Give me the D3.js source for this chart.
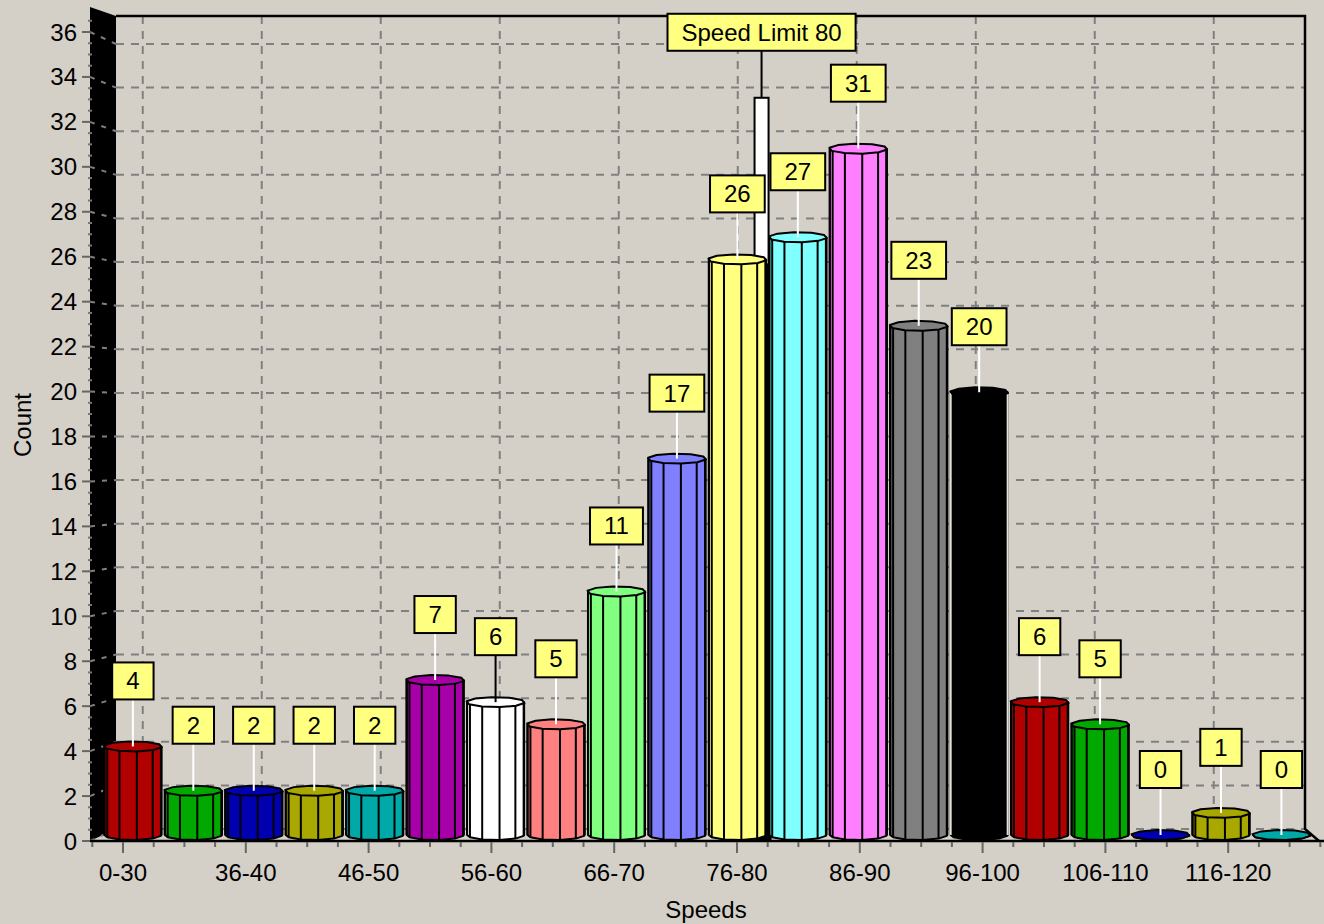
<!DOCTYPE html>
<html>
<head>
<meta charset="utf-8">
<script src="https://cdn.jsdelivr.net/npm/d3@7"></script>
<style>
  html, body { margin: 0; padding: 0; background: #d4d0c8; }
  text { font-family: "Liberation Sans", Arial, sans-serif; }
</style>
</head>
<body>
<script>
// speed bins (label, low, high) and counts
var binLabels = ["0-30", "31-35", "36-40", "41-45", "46-50", "51-55", "56-60", "61-65", "66-70", "71-75",
                 "76-80", "81-85", "86-90", "91-95", "96-100", "101-105", "106-110", "111-115", "116-120", "121-125"];
var binLow  = [0, 31, 36, 41, 46, 51, 56, 61, 66, 71, 76, 81, 86, 91, 96, 101, 106, 111, 116, 121];
var binHigh = [30, 35, 40, 45, 50, 55, 60, 65, 70, 75, 80, 85, 90, 95, 100, 105, 110, 115, 120, 125];
var counts  = [4, 2, 2, 2, 2, 7, 6, 5, 11, 17, 26, 27, 31, 23, 20, 6, 5, 0, 1, 0];
var barColors = ["#b00000", "#00a800", "#0000b0", "#a8a800", "#00a8a8", "#a800a8", "#ffffff", "#ff8080",
                 "#80ff80", "#8080ff", "#ffff80", "#80ffff", "#ff80ff", "#808080", "#000000",
                 "#b00000", "#00a800", "#0000b0", "#a8a800", "#00a8a8"];
var yTicks = d3.range(0, 37, 2);
var speedLimit = 80;
var speedLimitHeight = 33.3;
var speedLimitText = "Speed Limit 80";

var W = 1324, H = 924;
var bg = "#d4d0c8";
var gridColor = "#808080";

// front plane (floor edge) and back wall scales, bars stand half way
var xF = d3.scaleLinear().domain([-0.5, 19.5]).range([92.3, 1320.3]);
var xB = d3.scaleLinear().domain([-0.5, 19.5]).range([113, 1303]);
var yF = d3.scaleLinear().domain([0, 36]).range([841, 32]);
var yB = d3.scaleLinear().domain([0, 36]).range([829, 44]);
function xM(i) { return (xF(i) + xB(i)) / 2; }
function yM(v) { return (yF(v) + yB(v)) / 2; }

var wall = { left: 116, right: 1305, top: 16, bottom: 829, frontLeft: 90, frontTop: 7 };

var svg = d3.select("body").append("svg")
    .attr("width", W)
    .attr("height", H);

svg.append("rect").attr("width", W).attr("height", H).attr("fill", bg);

// back wall grid
svg.append("g").selectAll("line")
    .data(yTicks)
    .join("line")
    .attr("x1", wall.left).attr("x2", wall.right)
    .attr("y1", function(d) { return yB(d); }).attr("y2", function(d) { return yB(d); })
    .attr("stroke", gridColor).attr("stroke-width", 2).attr("stroke-dasharray", "8,7");

svg.append("g").selectAll("line")
    .data(d3.range(0, binLabels.length, 2))
    .join("line")
    .attr("x1", function(d) { return xB(d); }).attr("x2", function(d) { return xB(d); })
    .attr("y1", wall.top).attr("y2", wall.bottom)
    .attr("stroke", gridColor).attr("stroke-width", 2).attr("stroke-dasharray", "8,7");

// wall border
svg.append("path")
    .attr("d", "M" + wall.left + "," + wall.top + "H" + wall.right + "V" + wall.bottom + "L" + (wall.right + 14) + ",841")
    .attr("fill", "none").attr("stroke", "#000").attr("stroke-width", 2.5);

// left wall (black)
svg.append("path")
    .attr("d", "M" + wall.frontLeft + ",841V" + wall.frontTop + "L" + wall.left + "," + wall.top + "V" + wall.bottom + "Z")
    .attr("fill", "#000");

svg.append("g").selectAll("line")
    .data(yTicks)
    .join("line")
    .attr("x1", wall.frontLeft).attr("x2", wall.left)
    .attr("y1", function(d) { return yF(d); }).attr("y2", function(d) { return yB(d); })
    .attr("stroke", gridColor).attr("stroke-width", 2).attr("stroke-dasharray", "5,7");

// y axis ticks + labels
svg.append("g").selectAll("line")
    .data(d3.range(0, 36.6, 0.5).filter(function(d) { return d % 2 != 0; }))
    .join("line")
    .attr("x1", 88).attr("x2", 92)
    .attr("y1", function(d) { return yF(d); }).attr("y2", function(d) { return yF(d); })
    .attr("stroke", "#777").attr("stroke-width", 2);

svg.append("g").selectAll("line")
    .data(yTicks)
    .join("line")
    .attr("x1", 82).attr("x2", 91)
    .attr("y1", function(d) { return yF(d); }).attr("y2", function(d) { return yF(d); })
    .attr("stroke", "#666").attr("stroke-width", 2);

svg.append("g").selectAll("text")
    .data(yTicks)
    .join("text")
    .attr("x", 77)
    .attr("y", function(d) { return yF(d) + 8.5; })
    .attr("text-anchor", "end")
    .attr("font-size", 24)
    .attr("fill", "#000")
    .text(function(d) { return d; });

// speed limit marker, placed inside its bin
var limBin = binLow.findIndex(function(lo, i) { return speedLimit >= lo && speedLimit <= binHigh[i]; });
var limPos = limBin - 0.5 + (speedLimit - (binLow[limBin] - 0.5)) / (binHigh[limBin] - binLow[limBin] + 1);
var limX = xM(limPos);
var limTop = yM(speedLimitHeight);

svg.append("rect")
    .attr("x", limX - 7).attr("y", limTop)
    .attr("width", 14).attr("height", 841 - limTop)
    .attr("fill", "#fff").attr("stroke", "#000").attr("stroke-width", 2);
// part of the marker that sits in the bar's shade
svg.append("rect")
    .attr("x", limX - 7).attr("y", yM(counts[limBin]) + 4)
    .attr("width", 17).attr("height", 841 - yM(counts[limBin]) - 4)
    .attr("fill", "#000");

// cylinder bars
var r = 28.5, ry = 5, nFacets = 10, phase = 10 * Math.PI / 180;
var angles = d3.range(nFacets).map(function(k) { return phase + k * 2 * Math.PI / nFacets; });
var frontAngles = angles.filter(function(a) { return Math.sin(a) > 0; });
var baseY = yM(0);

var bars = svg.append("g").selectAll("g")
    .data(counts)
    .join("g");

bars.each(function(v, i) {
    var g = d3.select(this);
    var cx = xM(i), cy = yM(v);
    var fill = barColors[i];
    var edge = fill == "#000000" ? "#e6e2da" : "#000";

    var bottom = frontAngles.slice().reverse().map(function(a) {
        return [cx + r * Math.cos(a), baseY + ry * Math.sin(a)];
    });
    var body = [[cx - r, cy], [cx - r, baseY]].concat(bottom).concat([[cx + r, baseY], [cx + r, cy]]);
    g.append("path")
        .attr("d", "M" + body.join("L") + "Z")
        .attr("fill", fill).attr("stroke", "#000").attr("stroke-width", 2).attr("stroke-linejoin", "round");

    g.selectAll("line.facet")
        .data(frontAngles)
        .join("line")
        .attr("class", "facet")
        .attr("x1", function(a) { return cx + r * Math.cos(a); })
        .attr("x2", function(a) { return cx + r * Math.cos(a); })
        .attr("y1", function(a) { return cy + ry * Math.sin(a); })
        .attr("y2", function(a) { return baseY + ry * Math.sin(a); })
        .attr("stroke", "#000").attr("stroke-width", 2);

    g.selectAll("line.edge")
        .data([cx - r, cx + r])
        .join("line")
        .attr("class", "edge")
        .attr("x1", function(d) { return d; }).attr("x2", function(d) { return d; })
        .attr("y1", cy).attr("y2", baseY)
        .attr("stroke", edge).attr("stroke-width", 2);

    var cap = angles.map(function(a) {
        return [cx + r * 1.03 * Math.cos(a), cy + ry * Math.sin(a)];
    });
    g.append("path")
        .attr("d", "M" + cap.join("L") + "Z")
        .attr("fill", fill).attr("stroke", "#000").attr("stroke-width", 2).attr("stroke-linejoin", "round");
});

// value callouts
var boxGap = 47, boxH = 37, pad = 14, fontSize = 24;

function callout(cx, targetY, label, lineColor) {
    var bottomY = targetY - boxGap;
    svg.append("line")
        .attr("x1", cx).attr("x2", cx)
        .attr("y1", bottomY).attr("y2", targetY)
        .attr("stroke", lineColor).attr("stroke-width", 2);
    var t = svg.append("text")
        .attr("x", cx).attr("y", bottomY - boxH / 2 + 8.5)
        .attr("text-anchor", "middle")
        .attr("font-size", fontSize)
        .attr("fill", "#000")
        .text(label);
    var w = t.node().getComputedTextLength() + 2 * pad;
    svg.insert("rect", function() { return t.node(); })
        .attr("x", cx - w / 2).attr("y", bottomY - boxH)
        .attr("width", w).attr("height", boxH)
        .attr("fill", "#ffff80").attr("stroke", "#000").attr("stroke-width", 2);
}

callout(limX, limTop, speedLimitText, "#000");
counts.forEach(function(v, i) {
    callout(xM(i), yM(v), String(v), barColors[i] == "#ffffff" ? "#000" : "#fff");
});

// x axis
svg.append("line")
    .attr("x1", wall.frontLeft).attr("x2", W)
    .attr("y1", 841).attr("y2", 841)
    .attr("stroke", "#000").attr("stroke-width", 2.5);

svg.append("g").selectAll("line")
    .data(d3.range(-0.5, binLabels.length, 0.5))
    .join("line")
    .attr("x1", function(d) { return xF(d); }).attr("x2", function(d) { return xF(d); })
    .attr("y1", 842)
    .attr("y2", function(d) { return (d >= 0 && d % 2 == 0) ? 853 : 847; })
    .attr("stroke", "#666").attr("stroke-width", 2);

svg.append("g").selectAll("text")
    .data(binLabels.filter(function(d, i) { return i % 2 == 0; }))
    .join("text")
    .attr("x", function(d, i) { return xF(i * 2); })
    .attr("y", 881)
    .attr("text-anchor", "middle")
    .attr("font-size", 24)
    .attr("fill", "#000")
    .text(function(d) { return d; });

svg.append("text")
    .attr("x", 706).attr("y", 918)
    .attr("text-anchor", "middle")
    .attr("font-size", 24)
    .attr("fill", "#000")
    .text("Speeds");

svg.append("text")
    .attr("transform", "translate(31,425) rotate(-90)")
    .attr("text-anchor", "middle")
    .attr("font-size", 24)
    .attr("fill", "#000")
    .text("Count");
</script>
</body>
</html>
